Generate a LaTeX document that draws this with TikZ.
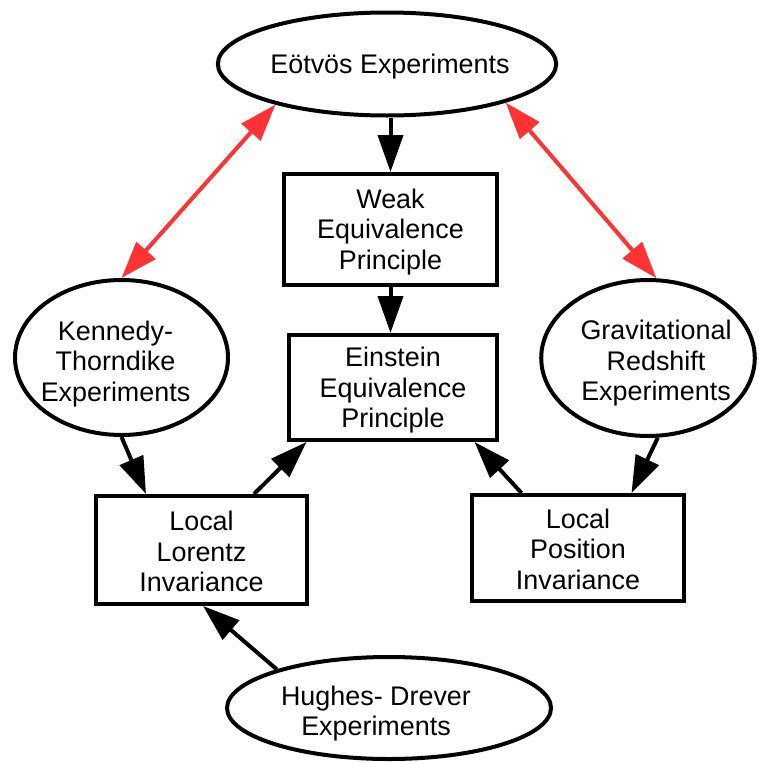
\documentclass[tikz,border=0pt]{standalone}
\usepackage{fontspec}
\setmainfont{Liberation Sans}
\usetikzlibrary{shapes.geometric,arrows.meta}
\definecolor{arrred}{RGB}{255,51,51}
\newcommand{\lowr}[3]{\raisebox{-#1}[\height][\depth]{\hspace*{#2}\begin{tabular}{@{}c@{}}#3\end{tabular}\hspace*{-#2}}}
\begin{document}
\begin{tikzpicture}[x=1pt,y=-1pt,
  lbl/.style={font=\fontsize{26.9}{30.5}\selectfont,inner sep=0pt,line width=4pt,draw},
  ell/.style={lbl,ellipse},
  rbox/.style={lbl,rectangle},
  blk/.style={line width=4pt,-{Triangle[length=37pt,width=25pt]}},
  redarr/.style={line width=4pt,draw=arrred,{Triangle[length=37pt,width=25pt]}-{Triangle[length=37pt,width=25pt]},fill=arrred}
]
\useasboundingbox (0,0) rectangle (758,763);

\node[ell,minimum width=326pt,minimum height=103pt] (eot) at (387,64) {\lowr{3pt}{3pt}{Eötvös Experiments}};
\node[rbox,minimum width=213pt,minimum height=111pt] (weak) at (390.5,229.5) {\lowr{3pt}{0pt}{Weak\\Equivalence\\Principle}};
\node[rbox,minimum width=208pt,minimum height=105pt] (ein) at (393,387.5) {\lowr{3.5pt}{0pt}{Einstein\\Equivalence\\Principle}};
\node[ell,minimum width=213pt,minimum height=155pt] (ken) at (121.5,357.5) {\lowr{7pt}{-6pt}{Kennedy-\\Thorndike\\Experiments}};
\node[ell,minimum width=190pt,minimum height=156pt] (grav) at (648,358) {\lowr{6pt}{8pt}{Gravitational\\Redshift\\Experiments}};
\node[rbox,minimum width=211pt,minimum height=108pt] (lor) at (201.5,550) {\lowr{5pt}{0pt}{Local\\Lorentz\\Invariance}};
\node[rbox,minimum width=212pt,minimum height=106pt] (pos) at (578,548) {\lowr{4.5pt}{0pt}{Local\\Position\\Invariance}};
\node[ell,minimum width=324pt,minimum height=102pt] (hug) at (389,708) {\lowr{6.5pt}{-13pt}{Hughes- Drever\\Experiments}};

% red double arrows
\draw[redarr] (eot.200) -- (ken.north);
\draw[redarr] (eot.-18) -- (grav.84);

% black arrows
\draw[blk] (weak.north |- eot.south) -- (weak.north);
\draw[blk] (weak.south) -- (weak.south |- ein.north);
\draw[blk] (ken.south) -- ([xshift=52pt]lor.north west);
\draw[blk] ([xshift=160pt]lor.north west) -- ([xshift=19.5pt]ein.south west);
\draw[blk] (grav.-83) -- ([xshift=161.5pt]pos.north west);
\draw[blk] ([xshift=51.5pt]pos.north west) -- ([xshift=-24.5pt]ein.south east);
\draw[blk] (hug.161.6) -- ([xshift=1.5pt]lor.south);
\end{tikzpicture}
\end{document}
